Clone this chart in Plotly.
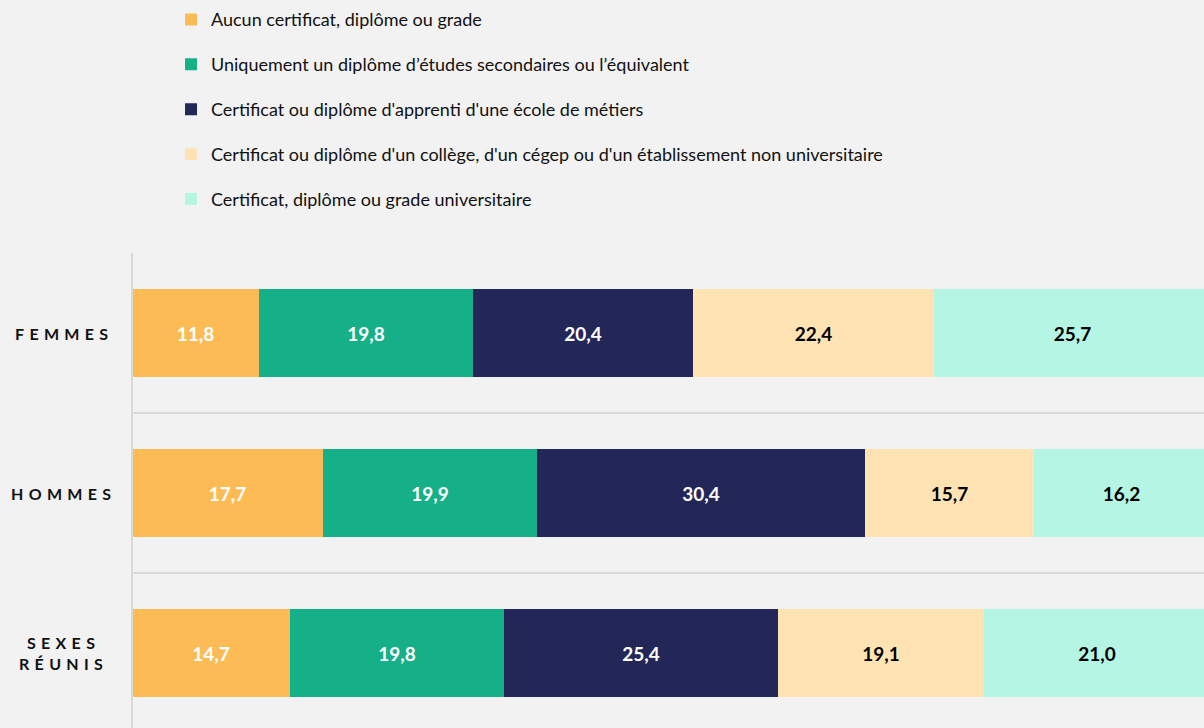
import plotly.graph_objects as go

categories = ["FEMMES", "HOMMES", "SEXES<br>RÉUNIS"]
series_names = [
    "Aucun certificat, diplôme ou grade",
    "Uniquement un diplôme d’études secondaires ou l’équivalent",
    "Certificat ou diplôme d'apprenti d'une école de métiers",
    "Certificat ou diplôme d'un collège, d'un cégep ou d'un établissement non universitaire",
    "Certificat, diplôme ou grade universitaire",
]
aucun = [11.8, 17.7, 14.7]
secondaire = [19.8, 19.9, 19.8]
apprenti = [20.4, 30.4, 25.4]
college = [22.4, 15.7, 19.1]
universitaire = [25.7, 16.2, 21.0]
series_values = [aucun, secondaire, apprenti, college, universitaire]
colors = ["#FDBB55", "#16B088", "#232757", "#FFE3B3", "#B5F5E4"]
text_colors = ["white", "white", "white", "black", "black"]

ypos = list(range(len(categories)))

fig = go.Figure()
for i, (name, vals) in enumerate(zip(series_names, series_values)):
    fig.add_trace(go.Bar(
        y=ypos, x=vals, name=name, orientation="h",
        marker=dict(color=colors[i], line=dict(width=0)),
        width=0.556,
        text=[f"{v:.1f}".replace(".", ",") for v in vals],
        textposition="inside", insidetextanchor="middle",
        textfont=dict(family="Lato", size=19, color=text_colors[i], weight="bold"),
        legendgroup=f"g{i}",
        hoverinfo="skip",
    ))

def spaced(s):
    return "<br>".join("\u2004".join(list(part)) for part in s.split("<br>"))

for y, c in zip(ypos, categories):
    fig.add_annotation(
        x=-0.0662, y=y, xref="paper", yref="y", text=spaced(c), showarrow=False,
        xanchor="center", yanchor="middle", align="center",
        font=dict(family="Lato", size=16, color="#111111", weight="bold"),
    )

fig.update_layout(
    width=1204, height=728,
    margin=dict(l=132, r=0, t=253, b=0),
    paper_bgcolor="#F2F2F2", plot_bgcolor="#F2F2F2",
    barmode="stack", bargap=0,
    showlegend=True,
    legend=dict(
        x=0.0364, y=1.53, xanchor="left", yanchor="top",
        orientation="v", traceorder="grouped", tracegroupgap=18.5,
        font=dict(family="Lato", size=18, color="#111111"),
        bgcolor="rgba(0,0,0,0)", itemclick=False, itemdoubleclick=False,
    ),
    xaxis=dict(range=[0, 99.45], showgrid=False, zeroline=False, showticklabels=False,
               showline=False, fixedrange=True),
    yaxis=dict(range=[2.46875, -0.5], tickvals=[-0.5, 0.5, 1.5, 2.5], showticklabels=False,
               showgrid=True, gridcolor="#D9D9D9", gridwidth=2, zeroline=False,
               showline=False, fixedrange=True),
    shapes=[dict(type="line", xref="paper", yref="paper", x0=0, x1=0, y0=0, y1=1,
                 line=dict(color="#D9D9D9", width=2), layer="above")],
)

fig.write_html("out.html", config={"displayModeBar": False},
               post_script="document.body.style.margin='0';document.body.style.overflow='hidden';")
